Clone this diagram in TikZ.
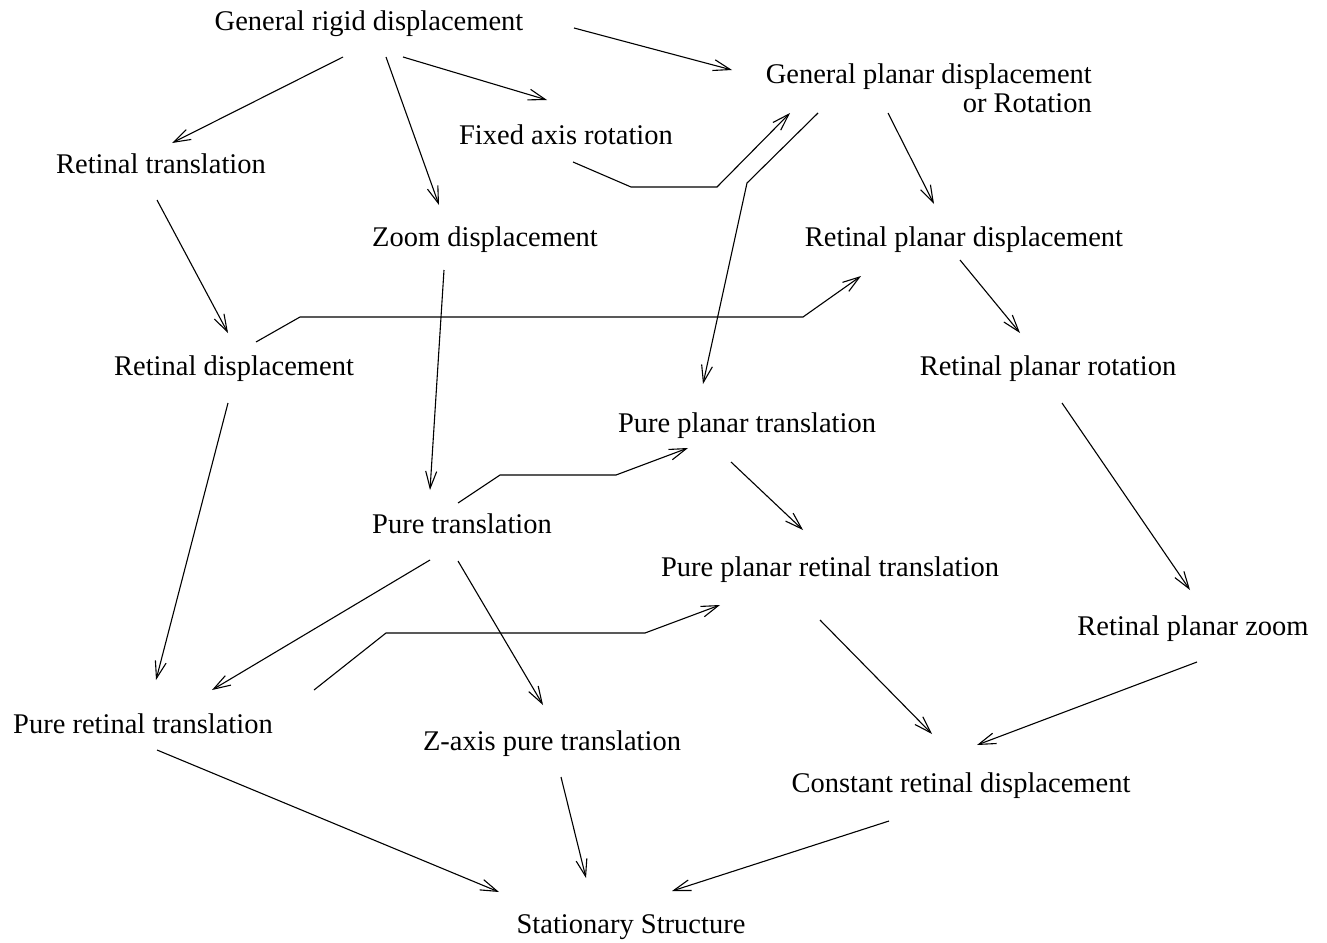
\documentclass[tikz,border=0pt]{standalone}
\usepackage{fontspec}
\setmainfont{Liberation Serif}
\usetikzlibrary{arrows.meta,calc}
\begin{document}
\begin{tikzpicture}[x=1pt,y=-1pt,
  lbl/.style={inner sep=0pt,anchor=base,font=\fontsize{28.5}{29.5}\selectfont},
  conn/.style={line width=1.1pt,-{Straight Barb[length=17pt,width=11pt,line width=1.1pt]},line join=miter}]
\useasboundingbox (0,0) rectangle (1327,942);
\node[lbl] (GR) at (369,31) {General rigid displacement};
\node[lbl,anchor=north east,align=right] (GP) at (1092,63.5) {General planar displacement\\or Rotation};
\node[lbl] (FA) at (566,144) {Fixed axis rotation};
\node[lbl] (RT) at (161,173) {Retinal translation};
\node[lbl] (ZD) at (485,246) {Zoom displacement};
\node[lbl] (RPD) at (964,246) {Retinal planar displacement};
\node[lbl] (RD) at (234,375) {Retinal displacement};
\node[lbl] (RPR) at (1048,375) {Retinal planar rotation};
\node[lbl] (PPT) at (747,432) {Pure planar translation};
\node[lbl] (PT) at (462,533) {Pure translation};
\node[lbl] (PPRT) at (830,576) {Pure planar retinal translation};
\node[lbl] (RPZ) at (1193,635) {Retinal planar zoom};
\node[lbl] (PRT) at (143,733) {Pure retinal translation};
\node[lbl] (ZA) at (552,750) {Z-axis pure translation};
\node[lbl] (CRD) at (961,792) {Constant retinal displacement};
\node[lbl] (SS) at (631,933) {Stationary Structure};

\draw[conn] ($(GR.base)+(-26,26)$) -- ($(RT.base)+(11,-30)$);
\draw[conn] ($(GR.base)+(17,26)$) -- ($(ZD.base)+(-46,-41)$);
\draw[conn] ($(GR.base)+(34,26)$) -- ($(FA.base)+(-19,-44)$);
\draw[conn] ($(GR.base)+(205,-3)$) -- ($(GP.north east)+(-360,6.5)$);
\draw[conn] ($(FA.base)+(7,18)$) -- (631,187) -- (717,187) -- ($(GP.north east)+(-302,49.5)$);
\draw[conn] ($(GP.north east)+(-274,49.5)$) -- (747,183) -- ($(PPT.base)+(-44,-48)$);
\draw[conn] ($(GP.north east)+(-204,49.5)$) -- ($(RPD.base)+(-30,-42)$);
\draw[conn] ($(RT.base)+(-4,27)$) -- ($(RD.base)+(-6,-42)$);
\draw[conn] ($(RD.base)+(22,-33)$) -- (300,317) -- (803,317) -- ($(RPD.base)+(-103,30)$);
\draw[conn] ($(ZD.base)+(-41,24)$) -- ($(PT.base)+(-32,-43)$);
\draw[conn] ($(RPD.base)+(-4,14)$) -- ($(RPR.base)+(-28,-42)$);
\draw[conn] ($(RD.base)+(-6,28)$) -- ($(PRT.base)+(13,-53)$);
\draw[conn] ($(PT.base)+(-4,-30)$) -- (500,475) -- (616,475) -- ($(PPT.base)+(-59,16)$);
\draw[conn] ($(PPT.base)+(-16,30)$) -- ($(PPRT.base)+(-27,-46)$);
\draw[conn] ($(RPR.base)+(14,28)$) -- ($(RPZ.base)+(-3,-45)$);
\draw[conn] ($(PT.base)+(-32,27)$) -- ($(PRT.base)+(69,-43)$);
\draw[conn] ($(PRT.base)+(171,-43)$) -- (386,633) -- (645,633) -- ($(PPRT.base)+(-110,29)$);
\draw[conn] ($(PT.base)+(-4,28)$) -- ($(ZA.base)+(-9,-45)$);
\draw[conn] ($(PPRT.base)+(-10,44)$) -- ($(CRD.base)+(-29,-58)$);
\draw[conn] ($(RPZ.base)+(4,27)$) -- ($(CRD.base)+(16,-47)$);
\draw[conn] ($(PRT.base)+(14,17)$) -- ($(SS.base)+(-132,-41)$);
\draw[conn] ($(ZA.base)+(9,27)$) -- ($(SS.base)+(-45,-55)$);
\draw[conn] ($(CRD.base)+(-72,29)$) -- ($(SS.base)+(41,-42)$);
\end{tikzpicture}
\end{document}
